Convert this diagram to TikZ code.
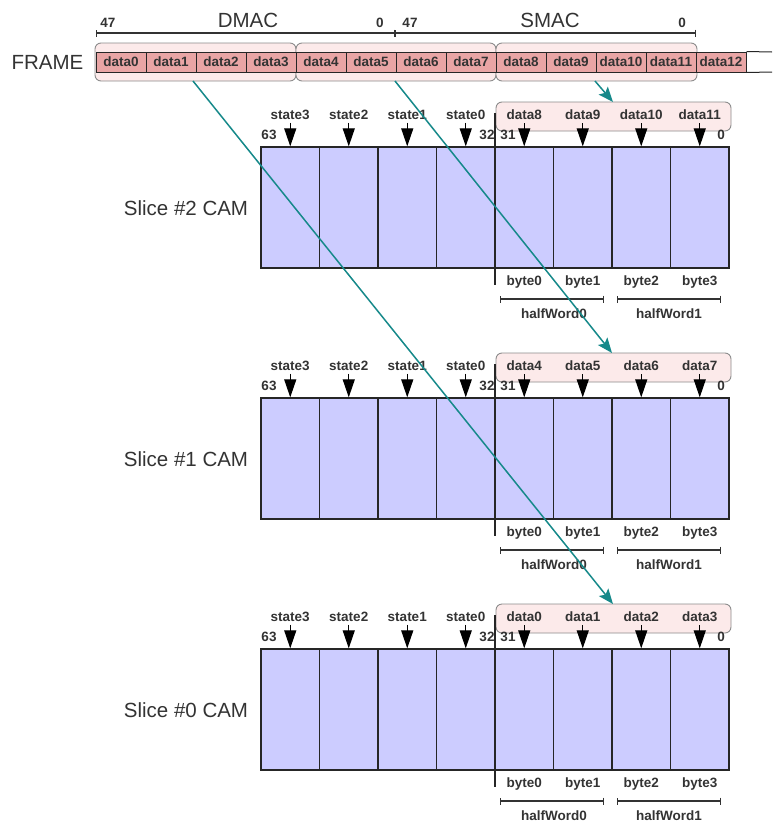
\documentclass[tikz,border=0pt]{standalone}
\usepackage{fontspec}
\setmainfont{Liberation Sans}
\usetikzlibrary{arrows.meta}
\definecolor{lav}{HTML}{CCCCFF}
\definecolor{salmon}{HTML}{E9A5A5}
\definecolor{pinkbg}{HTML}{FCEAEA}
\definecolor{txt}{HTML}{333333}
\definecolor{tealc}{HTML}{16898A}
\begin{document}
\begin{tikzpicture}[x=1pt,y=-1pt,
  lbl/.style={font=\fontsize{13.5}{15}\selectfont\bfseries, text=txt, inner sep=0pt},
  big/.style={font=\fontsize{20.5}{23}\selectfont, text=txt, inner sep=0pt},
  fcell/.style={draw=black!85, fill=salmon, line width=1pt, minimum width=50pt, minimum height=20pt, inner sep=0pt, font=\fontsize{13.5}{15}\selectfont\bfseries, text=txt},
  gbox/.style={draw=gray!90, fill=pinkbg, rounded corners=6pt, line width=0.9pt, inner sep=0pt},
  cam/.style={draw=black!85, fill=lav, line width=1.3pt, minimum width=58.5pt, minimum height=121pt, inner sep=0pt},
  darr/.style={-{Triangle[width=12pt,length=18pt]}, line width=1.2pt, draw=black, fill=black},
  dim/.style={{Bar[width=7pt]}-{Bar[width=7pt]}, line width=1.1pt, draw=black!80},
  tarr/.style={draw=tealc, line width=1.5pt, -{Stealth[length=15pt,width=12pt,inset=3pt]}},
  plain/.style={line width=1.2pt, draw=black!85}
]
\useasboundingbox (0,0) rectangle (772,825);

% ---------- top header ----------
\node[big] (dmac) at (248,20) {DMAC};
\node[big] (smac) at (550,20) {SMAC};
\node[lbl] (d47) at (108,23) {47};
\node[lbl] (d0) at (380,23) {0};
\node[lbl] (s47) at (410,23) {47};
\node[lbl] (s0) at (682,23) {0};
\coordinate (dl) at (96,33);
\coordinate (dm) at (395,33);
\coordinate (dr) at (696,33);
\draw[dim] (dl) -- (dm);
\draw[dim] (dm) -- (dr);

\node[big] (frame) at (47.5,62) {FRAME};
\node[gbox, minimum width=201pt, minimum height=38pt] (g1) at (195.5,62) {};
\node[gbox, minimum width=200pt, minimum height=38pt] (g2) at (396,62) {};
\node[gbox, minimum width=201pt, minimum height=38pt] (g3) at (596.5,62) {};
\foreach \i in {0,...,12} {
  \node[fcell] (f\i) at (121+50*\i,62) {data\i};
}
\coordinate (fe1) at (772,52);
\coordinate (fe2) at (772,72);
\draw[line width=1pt, draw=black!85] (f12.north east) -- (fe1);
\draw[line width=1pt, draw=black!85] (f12.south east) -- (fe2);

% ---------- slices ----------
\foreach \k in {2,1,0} {
  \pgfmathsetmacro{\o}{251*(2-\k)}
  \node[big] (sl\k) at (186,208+\o) {Slice \#\k{} CAM};
  \node[gbox, minimum width=235pt, minimum height=29pt] (db\k) at (613.5,116.5+\o) {};
  \foreach \i [evaluate=\i as \x using 290.25+58.5*\i] in {0,...,7} {
    \node[cam] (c\k-\i) at (\x,207.5+\o) {};
  }
  \foreach \i [evaluate=\i as \x using 290.25+58.5*\i, evaluate=\i as \s using int(3-\i)] in {0,...,3} {
    \node[lbl] (st\k-\i) at (\x,115+\o) {state\s};
    \draw[darr] (st\k-\i.south) ++(0,3) -- (c\k-\i.north);
  }
  \foreach \i [evaluate=\i as \x using 290.25+58.5*\i, evaluate=\i as \n using int(4*\k+\i-4), evaluate=\i as \b using int(\i-4)] in {4,...,7} {
    \node[lbl] (dt\k-\i) at (\x,115+\o) {data\n};
    \draw[darr] (dt\k-\i.south) ++(0,3) -- (c\k-\i.north);
    \node[lbl] (by\k-\i) at (\x,282+\o) {byte\b};
  }
  \node[lbl] (n63-\k) at (269,135+\o) {63};
  \node[lbl] (n32-\k) at (487,135+\o) {32};
  \node[lbl] (n31-\k) at (508,135+\o) {31};
  \node[lbl] (n0-\k) at (721,135+\o) {0};
  \coordinate (va\k) at (495,113+\o);
  \coordinate (vb\k) at (495,285+\o);
  \draw[plain] (va\k) -- (vb\k);
  \coordinate (h0a\k) at (500,299+\o);
  \coordinate (h0b\k) at (604,299+\o);
  \coordinate (h1a\k) at (617,299+\o);
  \coordinate (h1b\k) at (721,299+\o);
  \draw[dim] (h0a\k) -- (h0b\k);
  \draw[dim] (h1a\k) -- (h1b\k);
  \node[lbl] (hw0-\k) at (554,314+\o) {halfWord0};
  \node[lbl] (hw1-\k) at (669,314+\o) {halfWord1};
}

% ---------- teal arrows ----------
\coordinate (t1s) at (595,81);
\coordinate (t1e) at (613,102);
\coordinate (t2s) at (395,81);
\coordinate (t2e) at (612,353);
\coordinate (t3s) at (193,81);
\coordinate (t3e) at (613,604);
\draw[tarr] (t1s) -- (t1e);
\draw[tarr] (t2s) -- (t2e);
\draw[tarr] (t3s) -- (t3e);
\end{tikzpicture}
\end{document}
